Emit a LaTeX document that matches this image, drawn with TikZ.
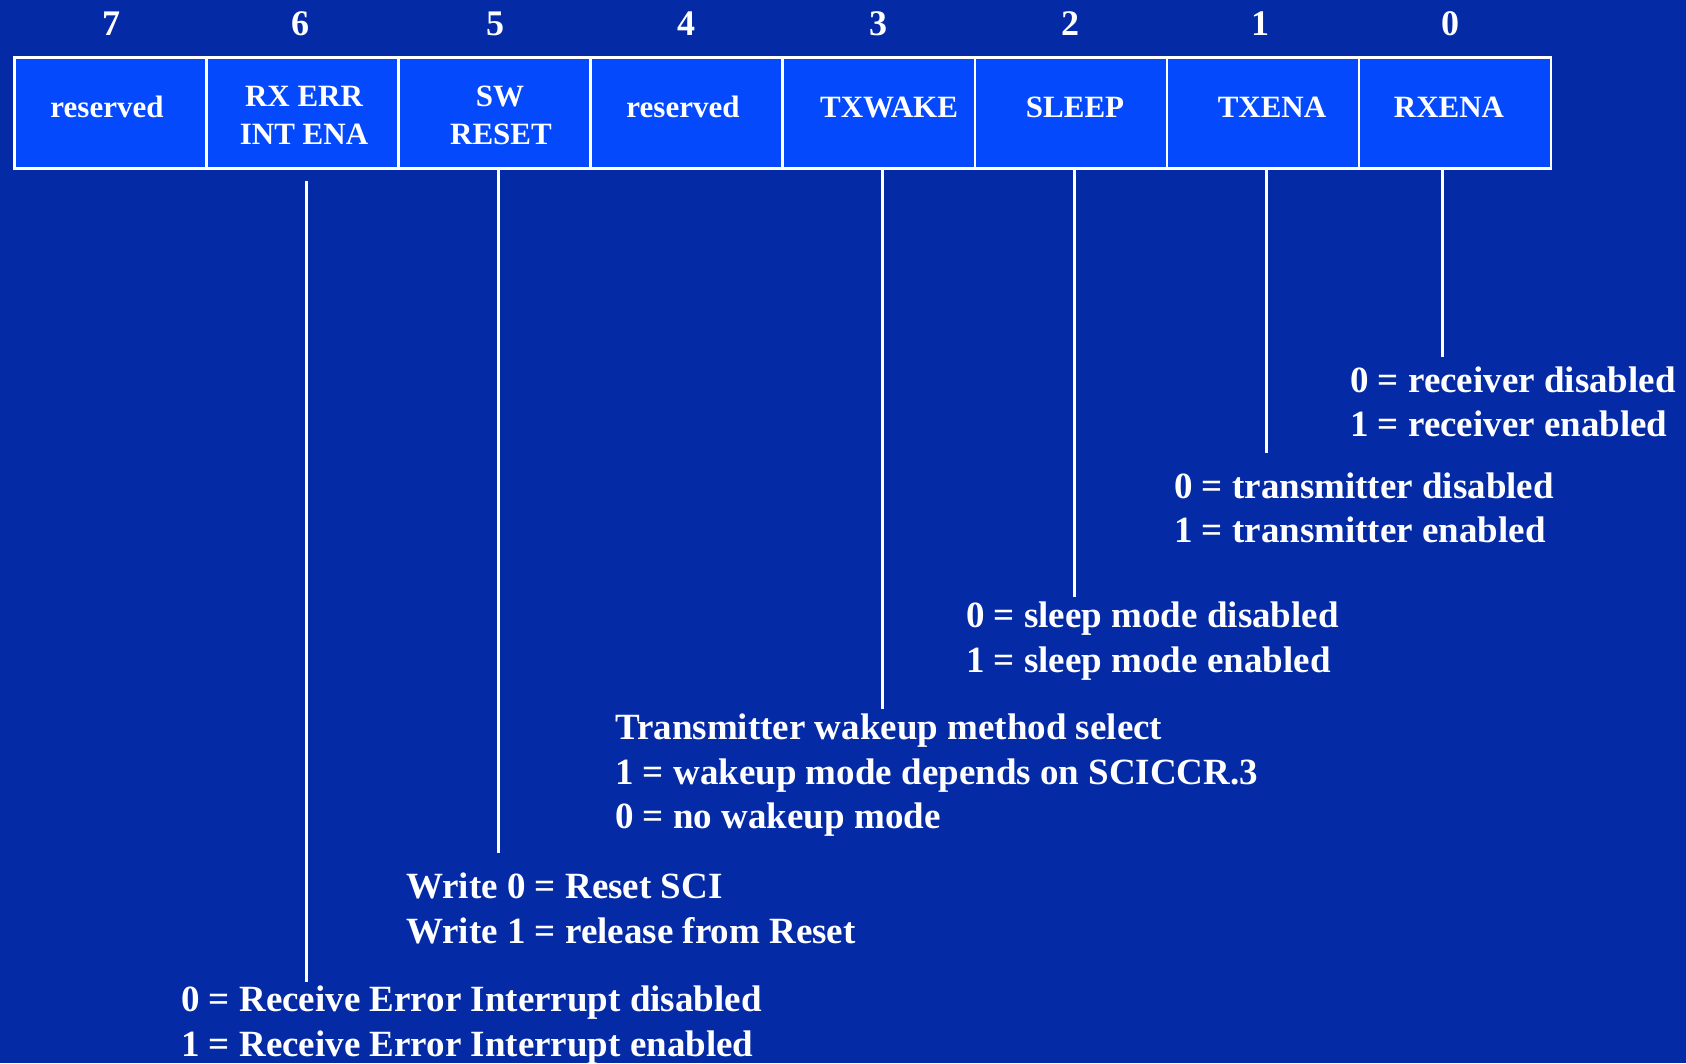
\documentclass[tikz,border=0pt]{standalone}
\usepackage{fontspec}
\setmainfont{Liberation Serif}
\definecolor{bg}{RGB}{5,42,166}
\definecolor{cellblue}{RGB}{4,74,252}
\begin{document}
\begin{tikzpicture}[x=1pt,y=-1pt,
  cell/.style={draw=white, line width=2.5pt, fill=cellblue, minimum width=192.1pt,
    minimum height=111pt, inner sep=0pt, anchor=north west},
  celltext/.style={text=white, font=\bfseries\fontsize{31}{38}\selectfont, inner sep=0pt, anchor=base},
  bitnum/.style={text=white, font=\bfseries\fontsize{36}{40}\selectfont, inner sep=0pt, anchor=base},
  desc/.style={text=white, font=\bfseries\fontsize{37}{45}\selectfont, inner sep=0pt, anchor=base west},
  lead/.style={draw=white, line width=3pt}]
% background
\fill[bg] (0,0) rectangle (1686,1063);
\useasboundingbox (0,0) rectangle (1686,1063);

% register cells, bit 7 on the left
\foreach \b in {7,...,0}
  \node[cell] (c\b) at ({13+192.1*(7-\b)},56) {};

% bit numbers
\node[bitnum] (n7) at (111,35) {7};
\node[bitnum] (n6) at (300,35) {6};
\node[bitnum] (n5) at (495,35) {5};
\node[bitnum] (n4) at (686,35) {4};
\node[bitnum] (n3) at (878,35) {3};
\node[bitnum] (n2) at (1070,35) {2};
\node[bitnum] (n1) at (1260,35) {1};
\node[bitnum] (n0) at (1450,35) {0};

% field names
\node[celltext] (l7) at (107,117) {reserved};
\node[celltext] (l6a) at (304,106) {RX ERR};
\node[celltext] (l6b) at (304,144) {INT ENA};
\node[celltext] (l5a) at (500,106) {SW};
\node[celltext] (l5b) at (501,144) {RESET};
\node[celltext] (l4) at (683,117) {reserved};
\node[celltext] (l3) at (889,117) {TXWAKE};
\node[celltext] (l2) at (1075,117) {SLEEP};
\node[celltext] (l1) at (1272,117) {TXENA};
\node[celltext] (l0) at (1449,117) {RXENA};

% descriptions
\node[desc] (r0a) at (1350,392) {0 = receiver disabled};
\node[desc] (r0b) at (1350,436) {1 = receiver enabled};
\node[desc] (r1a) at (1174,498) {0 = transmitter disabled};
\node[desc] (r1b) at (1174,542) {1 = transmitter enabled};
\node[desc] (r2a) at (966,627) {0 = sleep mode disabled};
\node[desc] (r2b) at (966,672) {1 = sleep mode enabled};
\node[desc] (r3a) at (615,739) {Transmitter wakeup method select};
\node[desc] (r3b) at (615,784) {1 = wakeup mode depends on SCICCR.3};
\node[desc] (r3c) at (615,828) {0 = no wakeup mode};
\node[desc] (r5a) at (406,898) {Write 0 = Reset SCI};
\node[desc] (r5b) at (406,943) {Write 1 = release from Reset};
\node[desc] (r6a) at (181,1011) {0 = Receive Error Interrupt disabled};
\node[desc] (r6b) at (181,1056) {1 = Receive Error Interrupt enabled};

% leader lines
\coordinate (e0) at (1442,357);
\coordinate (e1) at (1266,453);
\coordinate (e2) at (1074,597);
\coordinate (e3) at (882,709);
\coordinate (e5) at (498,853);
\coordinate (s6) at (306,181);
\coordinate (e6) at (306,982);
\draw[lead] (c0.south -| e0) -- (e0);
\draw[lead] (c1.south -| e1) -- (e1);
\draw[lead] (c2.south -| e2) -- (e2);
\draw[lead] (c3.south -| e3) -- (e3);
\draw[lead] (c5.south -| e5) -- (e5);
\draw[lead] (s6) -- (e6);
\end{tikzpicture}
\end{document}
